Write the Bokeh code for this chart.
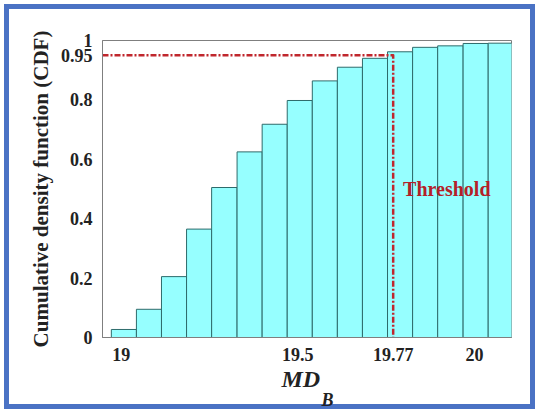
from bokeh.plotting import figure
from bokeh.models import Range1d, FixedTicker, Label, Title, ColumnDataSource
from bokeh.embed import file_html
from bokeh.resources import INLINE

# ---- data ----
bin_edges = [18.972, 19.043, 19.114, 19.185, 19.256, 19.328, 19.399, 19.470,
             19.541, 19.612, 19.683, 19.754, 19.825, 19.896, 19.968, 20.039, 20.110]
cdf_values = [0.027, 0.095, 0.205, 0.365, 0.505, 0.625, 0.718, 0.798,
              0.864, 0.910, 0.940, 0.962, 0.977, 0.982, 0.990, 0.991]
threshold_x = 19.77
threshold_cdf = 0.95
x_ticks = [19, 19.5, 19.77, 20]
x_tick_labels = ["19", "19.5", "19.77", "20"]
y_ticks = [0, 0.2, 0.4, 0.6, 0.8, 0.95, 1]
y_tick_labels = ["0", "0.2", "0.4", "0.6", "0.8", "0.95", "1"]

FONT = "Liberation Serif"

p = figure(width=539, height=413, output_backend="svg", toolbar_location=None,
           x_range=Range1d(18.947, 20.105), y_range=Range1d(0, 1),
           min_border_left=102, min_border_right=28, min_border_top=40, min_border_bottom=76)
p.grid.visible = False
p.background_fill_color = "white"
p.border_fill_alpha = 0
p.outline_line_color = "#7f7f7f"
p.outline_line_width = 1
p.styles = {"background-color": "white",
            "outline": "5px solid #4A72C4", "outline-offset": "-9px"}

src = ColumnDataSource(dict(left=bin_edges[:-1], right=bin_edges[1:], top=cdf_values,
                            bottom=[0] * len(cdf_values)))
p.quad(left="left", right="right", top="top", bottom="bottom", source=src,
       fill_color="#96FFFF", line_color="#2E6B6B", line_width=1)

x0 = p.x_range.start
p.line([x0, threshold_x, threshold_x], [threshold_cdf, threshold_cdf, 0],
       line_color="#C0272D", line_width=2.5, line_dash="6 2 2 2", line_join="round")

p.add_layout(Label(x=19.798, y=0.50, text="Threshold", text_color="#B42128",
                   text_font=FONT, text_font_style="bold", text_font_size="20px",
                   text_align="left", text_baseline="alphabetic"))

# axes
for ax in (p.xaxis[0], p.yaxis[0]):
    ax.major_tick_in = 0
    ax.major_tick_out = 0
    ax.minor_tick_in = 0
    ax.minor_tick_out = 0
    ax.axis_line_color = "#7f7f7f"
    ax.major_label_text_font = FONT
    ax.major_label_text_font_style = "bold"
    ax.major_label_text_font_size = "18px"
    ax.major_label_text_color = "#222222"
    ax.major_label_standoff = 10

p.xaxis.ticker = FixedTicker(ticks=x_ticks)
p.xaxis.major_label_overrides = {t: l for t, l in zip(x_ticks, x_tick_labels)}
p.yaxis.ticker = FixedTicker(ticks=y_ticks)
p.yaxis.major_label_overrides = {t: l for t, l in zip(y_ticks, y_tick_labels)}

p.yaxis.axis_label = "Cumulative density function (CDF)"
p.yaxis.axis_label_text_font = FONT
p.yaxis.axis_label_text_font_style = "bold"
p.yaxis.axis_label_text_font_size = "21px"
p.yaxis.axis_label_text_color = "#222222"
p.yaxis.axis_label_standoff = 5

# x axis label MD_B as two stacked titles below the axis
p.add_layout(Title(text="MD", align="left", offset=179, standoff=0,
                   text_font=FONT, text_font_style="bold italic", text_font_size="24px",
                   text_color="#222222"), "below")
p.add_layout(Title(text="B", align="left", offset=219, standoff=-7,
                   text_font=FONT, text_font_style="bold italic", text_font_size="18px",
                   text_color="#222222"), "below")

open("out.html", "w").write(file_html(p, INLINE))
